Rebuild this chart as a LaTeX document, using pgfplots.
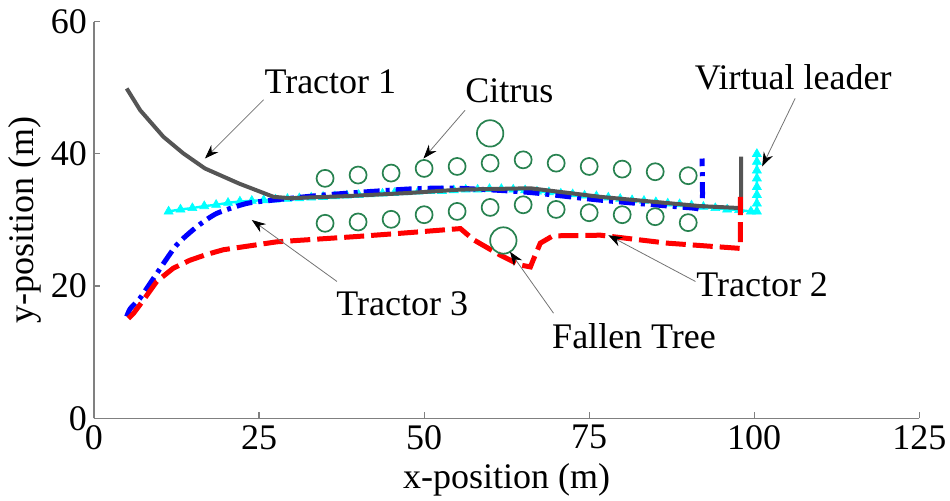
\documentclass[border=0pt]{standalone}
\usepackage{fontspec}
\setmainfont{Liberation Serif}
\usepackage{pgfplots}
\pgfplotsset{compat=1.18}
\usetikzlibrary{arrows.meta}
\definecolor{tgray}{RGB}{85,85,85}
\definecolor{citrus}{RGB}{40,130,80}
\definecolor{vcyan}{RGB}{0,255,255}
\newcommand{\lab}{\fontsize{18}{20}\selectfont}
\begin{document}
\begin{tikzpicture}
\path[use as bounding box] (-47pt,-41.35pt) rectangle (428pt,209.15pt);
\begin{axis}[
  at={(0,0)}, anchor=south west,
  scale only axis, width=412.65pt, height=198.3pt,
  xmin=0, xmax=125, ymin=0, ymax=60,
  xtick={0,25,50,75,100,125}, ytick={0,20,40,60},
  axis x line*=bottom, axis y line*=left,
  x axis line style={-}, y axis line style={-},
  axis line style={draw=gray, line width=0.6pt},
  tick style={draw=gray, line width=0.6pt},
  tick align=inside, major tick length=3pt,
  /pgf/number format/assume math mode=true,
  tick label style={font=\lab},
  label style={font=\lab},
  xlabel={x-position (m)}, ylabel={y-position (m)},
  ylabel style={yshift=-2pt},
  clip=false, clip marker paths=true,
]
% Virtual leader
\addplot[vcyan, line width=1.2pt, mark=triangle*, mark size=2.6pt, mark options={fill=vcyan, draw=vcyan, line width=0.3pt}] coordinates {
(11.3,31.3)(13.1,31.6)(14.9,31.8)(16.7,32.1)(18.5,32.3)(20.3,32.6)(22.1,32.8)(23.9,32.9)(25.7,33.0)(27.5,33.1)
(29.3,33.2)(31.1,33.3)(32.9,33.4)(34.7,33.5)(36.5,33.6)(38.3,33.7)(40.1,33.8)(41.9,33.9)(43.7,34.0)(45.5,34.1)
(47.3,34.2)(49.1,34.3)(50.9,34.4)(52.7,34.4)(54.5,34.5)(56.3,34.6)(58.1,34.6)(59.9,34.7)(61.7,34.7)(63.5,34.6)
(65.3,34.5)(67.1,34.3)(68.9,34.2)(70.7,34.0)(72.5,33.9)(74.3,33.7)(76.1,33.6)(77.9,33.4)(79.7,33.2)(81.5,33.0)
(83.3,32.9)(85.1,32.7)(86.9,32.5)(88.7,32.4)(90.5,32.2)(92.3,32.0)(94.1,31.8)(95.9,31.6)(97.7,31.5)(99.5,31.3)
(100.4,31.3)(100.4,32.5)(100.4,33.8)(100.4,35.0)(100.4,36.3)(100.4,37.5)(100.4,38.8)(100.4,40.0)
};
% Tractor 3
\addplot[blue, line width=2.5pt, dash pattern=on 8pt off 3pt on 2pt off 3pt, smooth, tension=0.4] coordinates {
(4.95,15.4)(5.5,16.6)(7.0,18.2)(9.5,21.9)(12.5,26.2)(15.6,29.0)(18.6,31.0)(23.1,32.5)(27.1,33.0)(35,33.8)(47.9,34.7)(55,34.8)(65.6,34.2)(76.7,33.0)(90.8,31.8)(92.1,31.8)(92.1,39.3)
};
% Tractor 1
\addplot[tgray, line width=2pt] coordinates {
(4.95,49.9)(7.0,46.6)(10.5,42.6)(13.5,40.1)(16.8,37.8)(22,35.5)(27.2,33.5)(29.7,33.3)(38,33.6)(47.9,34.1)(55.5,34.6)(66.1,34.8)(76.7,33.5)(91.8,32.1)(98.0,31.8)(98.0,39.6)
};
% Tractor 2
\addplot[red, line width=2.5pt, dash pattern=on 10pt off 3.5pt] coordinates {
(5.2,15.1)(6.0,15.9)(7.5,17.9)(9.5,20.7)(12.0,22.7)(14.5,23.9)(17.1,24.8)(19.6,25.5)(27.7,26.7)(39.8,27.5)(47.9,28.1)(55.5,28.7)(57.5,27.0)(61.5,24.7)(64.5,23.2)(66.1,22.9)(66.5,23.9)(67.6,26.5)(69.5,27.6)(76.7,27.7)(86.8,26.5)(97.9,25.7)(97.9,33.5)
};
% Citrus trees
\addplot[only marks, mark=o, mark size=4.25pt, mark options={draw=citrus, line width=0.85pt}] coordinates {
(35,36.3)(40,36.8)(45,37.1)(50,37.8)(55,38.1)(60,38.6)(65,39.1)(70,38.6)(75,38.1)(80,37.7)(85,37.3)(90,36.7)
(35,29.5)(40,29.7)(45,30.1)(50,30.8)(55,31.3)(60,31.9)(65,32.3)(70,31.6)(75,31.1)(80,30.8)(85,30.5)(90,29.6)
};
\addplot[only marks, mark=o, mark size=6.6pt, mark options={draw=citrus, line width=0.85pt}] coordinates {
(60,43.1)(62,26.9)
};
% Annotations
\tikzset{ann/.style={-{Stealth[length=7pt,width=5pt,color=black]}, line width=0.4pt, draw=black!55}}
\draw[ann] (axis cs:25.7,48.2) -- (axis cs:16.8,39.3);
\draw[ann] (axis cs:56.2,46.6) -- (axis cs:49.9,39.3);
\draw[ann] (axis cs:106.2,48.4) -- (axis cs:101.2,38.1);
\draw[ann] (axis cs:36.8,20.7) -- (axis cs:23.9,30.0);
\draw[ann] (axis cs:69.6,15.9) -- (axis cs:63.0,25.2);
\draw[ann] (axis cs:91.1,20.7) -- (axis cs:77.9,27.7);
\node[anchor=base, font=\lab, inner sep=0pt] at (axis cs:35.8,49.2) {Tractor 1};
\node[anchor=base, font=\lab, inner sep=0pt] at (axis cs:62.9,47.7) {Citrus};
\node[anchor=base, font=\lab, inner sep=0pt] at (axis cs:105.9,49.7) {Virtual leader};
\node[anchor=base, font=\lab, inner sep=0pt] at (axis cs:46.7,15.5) {Tractor 3};
\node[anchor=base, font=\lab, inner sep=0pt] at (axis cs:81.8,10.6) {Fallen Tree};
\node[anchor=base, font=\lab, inner sep=0pt] at (axis cs:101.2,18.4) {Tractor 2};
\end{axis}
\end{tikzpicture}
\end{document}
